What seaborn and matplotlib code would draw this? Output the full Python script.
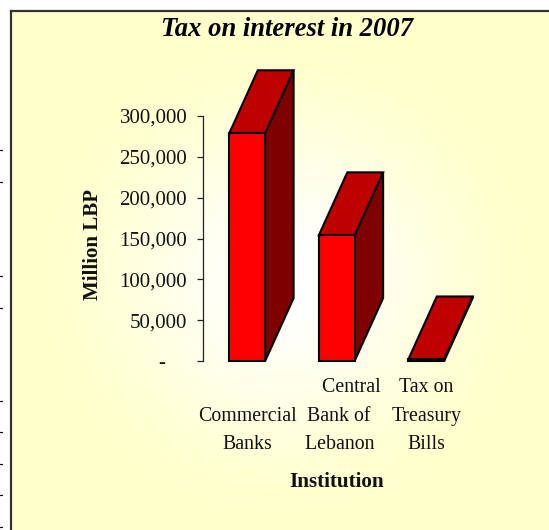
# Tax on interest chart, fake 3D bars on a pale yellow gradient panel
import numpy as np
import pandas as pd
import seaborn as sns
import matplotlib.pyplot as plt
from matplotlib.colors import LinearSegmentedColormap
from matplotlib.lines import Line2D
from matplotlib.patches import Polygon
from matplotlib.ticker import FuncFormatter

institutions = ["\nCommercial\nBanks", "      Central\n Bank of\n Lebanon", "Tax on\nTreasury\nBills"]
tax_million_lbp = [279000, 154000, 2000]
y_ticks = [0, 50000, 100000, 150000, 200000, 250000, 300000]

W, H = 549, 530

sns.set_theme(style="white")
plt.rcParams['font.family'] = ['Liberation Serif', 'DejaVu Serif']

df = pd.DataFrame({"institution": institutions, "tax": tax_million_lbp})

fig = plt.figure(figsize=(W / 100, H / 100), dpi=100, facecolor="white")

# background panel with the gradient
bg = fig.add_axes([10.5 / W, 0, 1 - 10.5 / W, 1 - 11 / H], zorder=0)
yy, xx = np.mgrid[11:H, 11:W]
r = np.clip(np.sqrt(((xx - 285) / 260) ** 2 + ((yy - 280) / 250) ** 2), 0, 1)
cmap = LinearSegmentedColormap.from_list("panel", ["#FFFFFF", "#FFFFCC"])
bg.imshow(r * r * (3 - 2 * r), cmap=cmap, aspect="auto", vmin=0, vmax=1)
bg.set_xticks([])
bg.set_yticks([])
for side in ["right", "bottom"]:
    bg.spines[side].set_visible(False)
for side in ["left", "top"]:
    bg.spines[side].set_color("#333333")
    bg.spines[side].set_linewidth(1.6)

# plot area: 0 sits at y=361px, 300,000 at y=116px
ax = fig.add_axes([202.5 / W, 1 - 361 / H, 268.5 / W, 245 / H], zorder=1)
ax.patch.set_alpha(0)
sns.barplot(data=df, x="institution", y="tax", color="#FF0000", saturation=1,
            width=0.4, edgecolor="black", linewidth=1.5, ax=ax)
ax.set_xlim(-0.5, 2.5)
ax.set_ylim(0, 300000)

# depth of the 3D look, in data units
dx = 0.318
dy = 77000
for bar in ax.patches:
    x0 = bar.get_x()
    x1 = x0 + bar.get_width()
    top = bar.get_height()
    roof = [(x0, top), (x1, top), (x1 + dx, top + dy), (x0 + dx, top + dy)]
    side = [(x1, 0), (x1 + dx, dy), (x1 + dx, top + dy), (x1, top)]
    ax.add_patch(Polygon(side, closed=True, facecolor="#7F0000", edgecolor="black",
                         linewidth=1.5, clip_on=False, zorder=2))
    ax.add_patch(Polygon(roof, closed=True, facecolor="#BF0000", edgecolor="black",
                         linewidth=1.5, clip_on=False, zorder=2))
    bar.set_zorder(3)
    bar.set_clip_on(False)

sns.despine(ax=ax, top=True, right=True, bottom=True)
ax.spines["left"].set_color("#222222")
ax.spines["left"].set_linewidth(0.9)
ax.set_yticks(y_ticks)
ax.yaxis.set_major_formatter(FuncFormatter(lambda v, p: "-    " if v == 0 else f"{int(v):,}"))
ax.tick_params(axis="y", left=True, length=4, width=0.9, color="#222222", pad=7,
               labelsize=15, labelcolor="#111111")
ax.tick_params(axis="x", bottom=False, length=0, pad=12.5, labelsize=14.3, labelcolor="#111111")
for lab in ax.get_xticklabels():
    lab.set_linespacing(1.66)
    lab.set_verticalalignment("top")

ax.set_xlabel("")
ax.set_ylabel("")
fig.text(93 / W, 1 - 245 / H, "Million LBP", rotation=90, ha="center", va="center",
         fontsize=15, fontweight="bold", color="#111111")
fig.text(337 / W, 1 - 482 / H, "Institution", ha="center", va="center",
         fontsize=15.2, fontweight="bold", color="#111111")
fig.text(287 / W, 1 - 29 / H, "Tax on interest in 2007", ha="center", va="center",
         fontsize=19.2, fontweight="bold", fontstyle="italic", color="black")

# small stray marks on the left edge of the picture
for py in [150, 182, 276, 308, 401, 432, 464, 495, 527]:
    fig.add_artist(Line2D([0, 2 / W], [1 - py / H, 1 - py / H], color="black", linewidth=0.9))

fig.savefig("out.png", dpi=100, facecolor="white")
